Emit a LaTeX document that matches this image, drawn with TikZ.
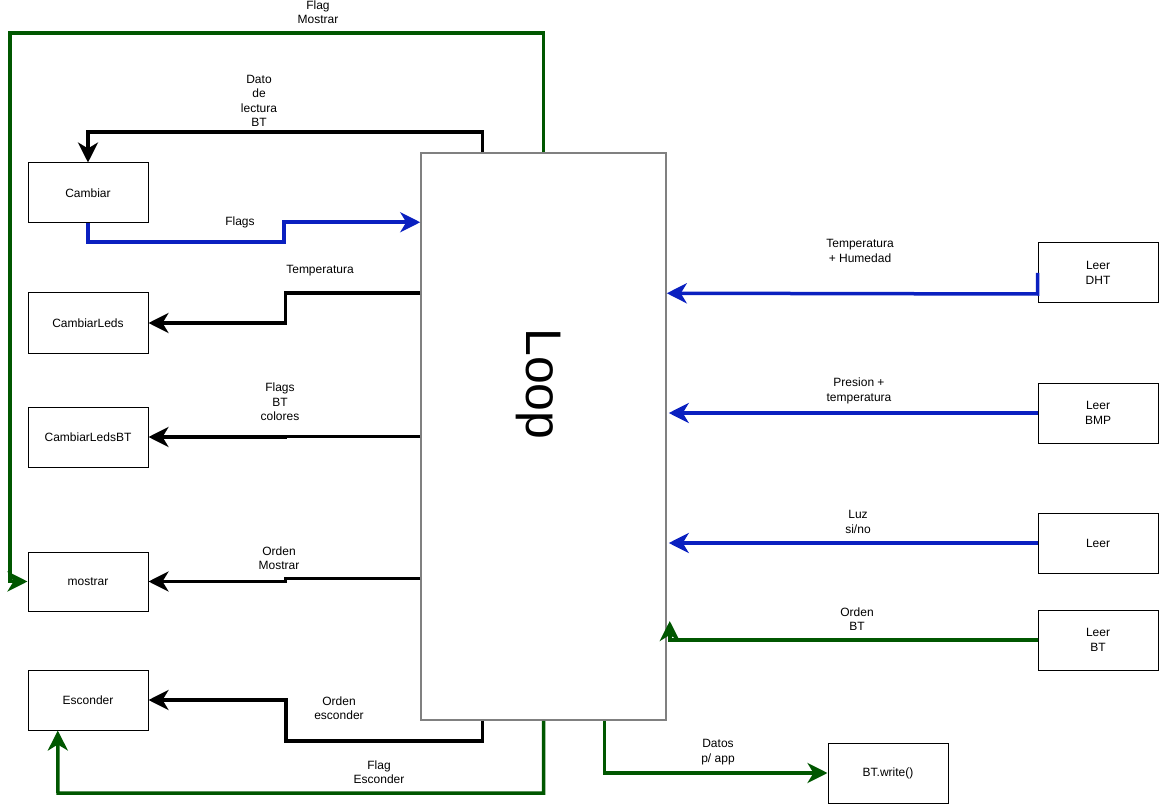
\documentclass[tikz,border=0pt]{standalone}
\usepackage{fontspec}
\setmainfont{Liberation Sans}
\usetikzlibrary{arrows.meta,calc}

\definecolor{flowblue}{HTML}{0A20C0}
\definecolor{flowgreen}{HTML}{005700}
\definecolor{loopgrey}{HTML}{808080}

\tikzset{
  box/.style={draw=black, line width=1pt, minimum width=120pt, minimum height=60pt,
              align=center, inner sep=0pt, font=\fontsize{12}{14.5}\selectfont},
  lbl/.style={align=center, inner sep=0pt, font=\fontsize{12}{14.5}\selectfont},
  tip/.style={-{Stealth[length=20pt,width=20pt,inset=6pt]}},
  wire/.style={line width=3.5pt, line join=miter, tip},
  blk/.style={wire, draw=black},
  blu/.style={wire, draw=flowblue},
  grn/.style={wire, draw=flowgreen},
}

\begin{document}
\begin{tikzpicture}[x=1pt,y=-1pt]
\useasboundingbox (0,0) rectangle (1160,805);

% main loop block
\node[draw=loopgrey, line width=1.5pt, minimum width=245pt, minimum height=567pt, inner sep=0pt]
  (Loop) at (543.5,436.5) {};
\node[rotate=-90, inner sep=0pt, font=\fontsize{50}{54}\selectfont] (looptext) at (539,384) {Loop};

% left-hand blocks
\node[box] (Cambiar) at (88,193) {Cambiar};
\node[box] (CambiarLeds) at (88,323) {CambiarLeds};
\node[box] (CambiarLedsBT) at (88,437) {CambiarLedsBT};
\node[box, minimum height=59pt] (mostrar) at (88,581.5) {mostrar};
\node[box] (Esconder) at (88,700) {Esconder};

% right-hand readers
\node[box] (DHT) at (1098,273) {Leer\\DHT};
\node[box] (BMP) at (1098,413) {Leer\\BMP};
\node[box] (Luz) at (1098,543) {Leer};
\node[box] (LeerBT) at (1098,640) {Leer\\BT};
\node[box] (BTwrite) at (888,773) {BT.write()};

% connectors to the left blocks
\draw[grn] (Loop.north) |- (10,33) |- (mostrar.west);
\draw[blk] ($(Loop.north west)+(62,0)$) -- ++(0,-20) -| (Cambiar.north);
\draw[blu] (Cambiar.south) |- (284,242) |- ($(Loop.north west)+(0,70)$);
\draw[blk] ($(Loop.north west)+(0,141)$) -- ++(-135,0) |- (CambiarLeds.east);
\draw[blk] (Loop.west) -- ++(-135,0) |- (CambiarLedsBT.east);
\draw[blk] ($(Loop.north west)+(0,426)$) -- ++(-135,0) |- (mostrar.east);
\draw[blk] ($(Loop.south west)+(62,0)$) |- (286,741) |- (Esconder.east);
\draw[grn] (Loop.south) |- (58,793) -- ($(Esconder.south west)!0.25!(Esconder.south east)$);
\draw[grn] ($(Loop.south west)+(184,0)$) |- (BTwrite.west);

% connectors from the readers
\draw[blu] (DHT.west) -- ++(0,21) -- ($(Loop.north east)+(0,141)$);
\draw[blu] (BMP.west) -- ($(Loop.east |- BMP.west)+(2,0)$);
\draw[blu] (Luz.west) -- ($(Loop.east |- Luz.west)+(2,0)$);
\draw[grn] (LeerBT.west) -- ($(Loop.east |- LeerBT.west)+(3,0)$) -- ++(0,-19);

% connector labels
\node[lbl] (lFlagMostrar) at (318,12) {Flag\\Mostrar};
\node[lbl] (lDato) at (259,101) {Dato\\de\\lectura\\BT};
\node[lbl] (lFlags) at (240,222) {Flags};
\node[lbl] (lTemp) at (320,271) {Temperatura};
\node[lbl] (lFlagsBT) at (280,402) {Flags\\BT\\colores};
\node[lbl] (lOrdenMostrar) at (279,558) {Orden\\Mostrar};
\node[lbl] (lOrdenEsconder) at (339,708) {Orden\\esconder};
\node[lbl] (lFlagEsconder) at (379,772) {Flag\\Esconder};
\node[lbl] (lDatos) at (718,752) {Datos\\p/ app};
\node[lbl] (lTH) at (860,251) {Temperatura\\+ Humedad};
\node[lbl] (lPT) at (859,391) {Presion +\\temperatura};
\node[lbl] (lLuz) at (858,522) {Luz\\si/no};
\node[lbl] (lOrdenBT) at (857,619) {Orden\\BT};
\end{tikzpicture}
\end{document}
